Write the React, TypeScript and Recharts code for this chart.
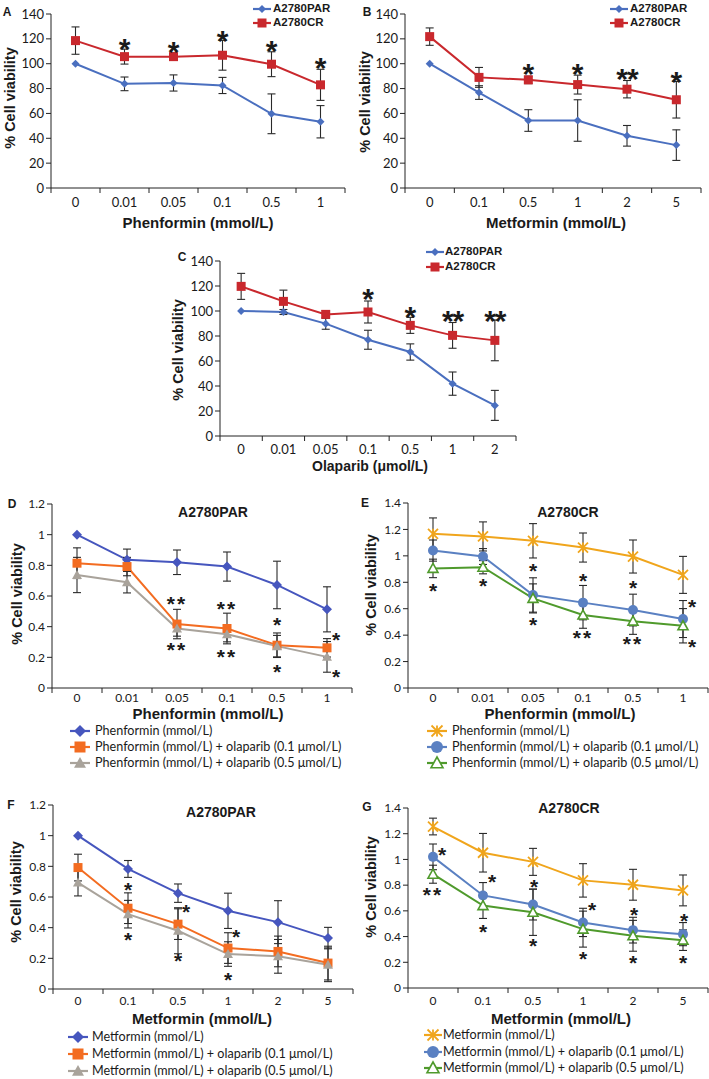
import React from "react";
import { ComposedChart, Line, XAxis, YAxis, ErrorBar } from "recharts";

type Star = [string, number] | null;
type MarkerKind = "diamond" | "square" | "triangle" | "openTriangle" | "circle" | "xstar";

const phenDoses = ["0", "0.01", "0.05", "0.1", "0.5", "1"];
const metDoses = ["0", "0.1", "0.5", "1", "2", "5"];
const olaDoses = ["0", "0.01", "0.05", "0.1", "0.5", "1", "2"];

const pctTicks = [0, 20, 40, 60, 80, 100, 120, 140];
const ratioTicks12 = [0, 0.2, 0.4, 0.6, 0.8, 1, 1.2];
const ratioTicks14 = [0, 0.2, 0.4, 0.6, 0.8, 1, 1.2, 1.4];

// A: phenformin, PAR vs CR
const aPar = [100, 83.8, 84.5, 82.5, 59.7, 53.3];
const aParErr = [0, 5.5, 6.5, 6.5, 16, 13];
const aCr = [118.6, 105.7, 105.7, 106.8, 99.6, 83];
const aCrErr = [11, 6, 3, 12, 10, 12.5];
const aStars: Star[] = [null, ["*", 117], ["*", 115], ["*", 124], ["*", 115.4], ["*", 101.7]];

// B: metformin, PAR vs CR
const bPar = [100, 76.8, 54.3, 54.3, 42, 34.5];
const bParErr = [0, 5.5, 8.7, 16.7, 8.3, 12.3];
const bCr = [121.8, 89, 87, 83.2, 79.5, 71];
const bCrErr = [7, 8, 3, 7.6, 7, 14.7];
const bStars: Star[] = [null, null, ["*", 96.9], ["*", 96.9], ["**", 93], ["*", 91]];

// C: olaparib, PAR vs CR
const cPar = [100, 99.2, 89.9, 77, 67.2, 41.9, 24.5];
const cParErr = [0, 2, 4.5, 7.6, 6.5, 9.3, 12];
const cCr = [119.7, 107.7, 97.3, 99.2, 88.5, 80.5, 76.5];
const cCrErr = [10.4, 9, 3, 8.8, 6.4, 10.3, 16.3];
const cStars: Star[] = [null, null, null, ["*", 114.7], ["*", 100.8], ["**", 97.3], ["**", 97.3]];

// D: A2780PAR phenformin +/- olaparib
const dPhen = [1.0, 0.836, 0.82, 0.792, 0.672, 0.513];
const dPhenErr = [0, 0.07, 0.08, 0.095, 0.155, 0.147];
const dOla01 = [0.814, 0.792, 0.417, 0.388, 0.279, 0.262];
const dOla01Err = [0.1, 0.06, 0.096, 0.1, 0.08, 0.06];
const dOla05 = [0.737, 0.69, 0.388, 0.351, 0.273, 0.203];
const dOla05Err = [0.115, 0.07, 0.05, 0.05, 0.07, 0.1];
const dStarsUp: Star[] = [null, null, ["**", 0.578], ["**", 0.545], ["*", 0.439], null];
const dStarsUpSide: Star[] = [null, null, null, null, null, ["*", 0.345]];
const dStarsDown: Star[] = [null, null, ["**", 0.279], ["**", 0.236], ["*", 0.137], null];
const dStarsDownSide: Star[] = [null, null, null, null, null, ["*", 0.105]];

// E: A2780CR phenformin +/- olaparib
const ePhen = [1.167, 1.147, 1.114, 1.063, 0.995, 0.856];
const ePhenErr = [0.12, 0.11, 0.13, 0.11, 0.125, 0.14];
const eOla01 = [1.04, 0.995, 0.704, 0.646, 0.59, 0.522];
const eOla01Err = [0.08, 0.06, 0.13, 0.13, 0.12, 0.14];
const eOla05 = [0.905, 0.914, 0.678, 0.552, 0.506, 0.471];
const eOla05Err = [0.07, 0.05, 0.11, 0.1, 0.1, 0.13];
const eStarsUp: Star[] = [null, null, ["*", 0.919], ["*", 0.848], ["*", 0.792], null];
const eStarsUpSide: Star[] = [null, null, null, null, null, ["*", 0.646]];
const eStarsDown: Star[] = [["*", 0.767], ["*", 0.805], ["*", 0.514], ["**", 0.418], ["**", 0.367], null];
const eStarsDownSide: Star[] = [null, null, null, null, null, ["*", 0.349]];

// F: A2780PAR metformin +/- olaparib
const fMet = [1.0, 0.783, 0.625, 0.51, 0.436, 0.332];
const fMetErr = [0, 0.055, 0.06, 0.115, 0.14, 0.07];
const fOla01 = [0.792, 0.527, 0.423, 0.267, 0.245, 0.169];
const fOla01Err = [0.087, 0.1, 0.1, 0.1, 0.1, 0.11];
const fOla05 = [0.694, 0.488, 0.38, 0.228, 0.213, 0.158];
const fOla05Err = [0.087, 0.09, 0.15, 0.08, 0.11, 0.11];
const fStarsUp: Star[] = [null, ["*", 0.679], null, null, null, null];
const fStarsUpSide: Star[] = [null, null, ["*", 0.532], ["*", 0.371], null, null];
const fStarsDown: Star[] = [null, ["*", 0.349], ["*", 0.213], ["*", 0.093], null, null];

// G: A2780CR metformin +/- olaparib
const gMet = [1.256, 1.052, 0.981, 0.837, 0.803, 0.759];
const gMetErr = [0.065, 0.15, 0.105, 0.13, 0.12, 0.12];
const gOla01 = [1.02, 0.72, 0.649, 0.51, 0.45, 0.419];
const gOla01Err = [0.1, 0.1, 0.12, 0.11, 0.1, 0.09];
const gOla05 = [0.885, 0.641, 0.589, 0.458, 0.406, 0.372];
const gOla05Err = [0.07, 0.1, 0.18, 0.14, 0.12, 0.08];
const gStarsUp: Star[] = [null, null, ["*", 0.819], null, ["*", 0.602], ["*", 0.555]];
const gStarsUpSide: Star[] = [["*", 1.073], ["*", 0.864], null, ["*", 0.641], null, null];
const gStarsDown: Star[] = [["**", 0.764], ["*", 0.471], ["*", 0.366], ["*", 0.262], ["*", 0.23], ["*", 0.23]];

const REG = "Lato, 'Liberation Sans', sans-serif";
const BOLD = "'Liberation Sans', Arial, sans-serif";
const AXIS = "#222";
const INK = "#1a1a1a";

const BLUE = "#4A6FBF";
const RED = "#C9282D";
const NAVY = "#4656BE";
const ORANGE = "#F36C21";
const GRAY = "#A9A39B";
const YELLOW = "#F0A51C";
const SKY = "#5A80C2";
const GREEN = "#4F9A2C";

function Marker({ kind, cx, cy, size, color }: { kind: MarkerKind; cx: number; cy: number; size: number; color: string }) {
  const r = size / 2;
  if (kind === "diamond")
    return <polygon points={`${cx},${cy - r} ${cx + r},${cy} ${cx},${cy + r} ${cx - r},${cy}`} fill={color} />;
  if (kind === "square") return <rect x={cx - r} y={cy - r} width={size} height={size} fill={color} />;
  if (kind === "triangle" || kind === "openTriangle") {
    const pts = `${cx},${cy - r} ${cx + r},${cy + r * 0.8} ${cx - r},${cy + r * 0.8}`;
    return kind === "triangle" ? (
      <polygon points={pts} fill={color} />
    ) : (
      <polygon points={pts} fill="#fff" stroke={color} strokeWidth={1.6} />
    );
  }
  if (kind === "circle") return <circle cx={cx} cy={cy} r={r} fill={color} />;
  return (
    <g stroke={color} strokeWidth={1.8}>
      <line x1={cx - r} y1={cy - r} x2={cx + r} y2={cy + r} />
      <line x1={cx - r} y1={cy + r} x2={cx + r} y2={cy - r} />
      <line x1={cx} y1={cy - r} x2={cx} y2={cy + r} />
    </g>
  );
}

function BandTick(props: any) {
  const { x, y, payload, index, bw, count, off, fs } = props;
  return (
    <g>
      <line x1={x - bw / 2} y1={y} x2={x - bw / 2} y2={y + 5} stroke={AXIS} />
      {index === count - 1 && <line x1={x + bw / 2} y1={y} x2={x + bw / 2} y2={y + 5} stroke={AXIS} />}
      <text x={x} y={y + off} textAnchor="middle" dominantBaseline="central" fontSize={fs} fontFamily={REG} fill={INK}>
        {payload.value}
      </text>
    </g>
  );
}

type SeriesDef = { values: number[]; errors: number[]; color: string; kind: MarkerKind; size: number };
type StarGroup = { stars: Star[]; dx: number };

function Panel(props: {
  x0: number;
  x1: number;
  yTop: number;
  yBottom: number;
  doses: string[];
  ticks: number[];
  series: SeriesDef[];
  starGroups: StarGroup[];
  tickFont: number;
  starFont: number;
  labelOff: number;
  starSpacing: number;
}) {
  const { x0, x1, yTop, yBottom, doses, ticks, series, starGroups, tickFont, starFont, labelOff, starSpacing } = props;
  const YW = 44;
  const TM = 14;
  const XH = 26;
  const RM = 1;
  const width = x1 - x0 + YW + RM;
  const height = yBottom - yTop + TM + XH;
  const bw = (x1 - x0) / doses.length;
  const rows = doses.map((d, i) => {
    const r: Record<string, any> = { dose: d };
    series.forEach((s, si) => {
      r["s" + si] = s.values[i];
      r["e" + si] = s.errors[i];
    });
    starGroups.forEach((g, gi) => {
      const st = g.stars[i];
      r["star" + gi] = st ? st[1] : null;
      r["mark" + gi] = st ? st[0] : null;
    });
    return r;
  });

  return (
    <div style={{ position: "absolute", left: x0 - YW, top: yTop - TM }}>
      <ComposedChart width={width} height={height} data={rows} margin={{ top: TM, right: RM, bottom: 0, left: 0 }}>
        <XAxis
          dataKey="dose"
          scale="band"
          height={XH}
          interval={0}
          tickLine={false}
          tickSize={0}
          tickMargin={0}
          axisLine={{ stroke: AXIS }}
          tick={<BandTick bw={bw} count={doses.length} off={labelOff} fs={tickFont} />}
        />
        <YAxis
          width={YW}
          domain={[ticks[0], ticks[ticks.length - 1]]}
          ticks={ticks}
          interval={0}
          tickSize={5}
          tickMargin={2}
          axisLine={{ stroke: AXIS }}
          tickLine={{ stroke: AXIS }}
          tick={{ fill: INK, fontSize: tickFont, fontFamily: REG }}
        />
        {series.map((s, si) => (
          <Line
            key={"s" + si}
            dataKey={"s" + si}
            stroke={s.color}
            strokeWidth={2}
            activeDot={false}
            isAnimationActive={false}
            dot={(p: any) => <Marker key={`m${si}-${p.index}`} kind={s.kind} cx={p.cx} cy={p.cy} size={s.size} color={s.color} />}
          >
            <ErrorBar dataKey={"e" + si} width={4} stroke="#2a2a2a" strokeWidth={1.1} direction="y" />
          </Line>
        ))}
        {starGroups.map((g, gi) => (
          <Line
            key={"star" + gi}
            dataKey={"star" + gi}
            stroke="none"
            activeDot={false}
            legendType="none"
            isAnimationActive={false}
            dot={(p: any) => {
              const mark = p.payload ? p.payload["mark" + gi] : null;
              if (!mark || p.cy == null || Number.isNaN(p.cy)) return <g key={`st${gi}-${p.index}`} />;
              return (
                <text
                  key={`st${gi}-${p.index}`}
                  x={p.cx + g.dx}
                  y={p.cy + starFont * 0.56}
                  textAnchor="middle"
                  fontSize={starFont}
                  fontWeight="bold"
                  fontFamily={BOLD}
                  letterSpacing={mark.length > 1 ? starSpacing : 0}
                  fill={INK}
                >
                  {mark}
                </text>
              );
            }}
          />
        ))}
      </ComposedChart>
    </div>
  );
}

function Txt({ x, y, children, size, bold, rotate, align }: any) {
  const shift = align === "left" ? "translate(0,-50%)" : "translate(-50%,-50%)";
  return (
    <div
      style={{
        position: "absolute",
        left: x,
        top: y,
        transform: shift + (rotate ? " rotate(-90deg)" : ""),
        fontFamily: bold ? BOLD : REG,
        fontWeight: bold ? 700 : 400,
        fontSize: size,
        lineHeight: 1,
        whiteSpace: "nowrap",
        color: INK,
      }}
    >
      {children}
    </div>
  );
}

function LegendItem({ mx, y, tx, kind, color, size, label, half, fs, bold }: any) {
  return (
    <>
      <svg style={{ position: "absolute", left: mx - half - 1, top: y - 8 }} width={2 * half + 2} height={16}>
        <line x1={1} y1={8} x2={2 * half + 1} y2={8} stroke={color} strokeWidth={2.2} />
        <Marker kind={kind} cx={half + 1} cy={8} size={size} color={color} />
      </svg>
      <Txt x={tx} y={y} size={fs} bold={bold} align="left">
        {label}
      </Txt>
    </>
  );
}

export default function App() {
  const smallStars = 21;
  const bigStars = 30;
  const legendFont = 12.6;
  return (
    <div style={{ position: "absolute", left: 0, top: 0, width: 709, height: 1079, overflow: "hidden", background: "#fff" }}>
      {/* A */}
      <Panel
        x0={51} x1={345} yTop={14} yBottom={188} doses={phenDoses} ticks={pctTicks}
        series={[
          { values: aPar, errors: aParErr, color: BLUE, kind: "diamond", size: 8 },
          { values: aCr, errors: aCrErr, color: RED, kind: "square", size: 9 },
        ]}
        starGroups={[{ stars: aStars, dx: 0 }]}
        tickFont={13} starFont={bigStars} labelOff={13.5} starSpacing={-1}
      />
      <Txt x={7} y={12} size={12} bold>A</Txt>
      <Txt x={10} y={98} size={14.5} bold rotate>% Cell viability</Txt>
      <Txt x={198} y={222} size={15} bold>Phenformin (mmol/L)</Txt>
      <LegendItem mx={262} y={8.5} tx={273} kind="diamond" color={BLUE} size={8} half={9} fs={11.5} bold label="A2780PAR" />
      <LegendItem mx={262} y={23} tx={273} kind="square" color={RED} size={9} half={9} fs={11.5} bold label="A2780CR" />

      {/* B */}
      <Panel
        x0={405} x1={701} yTop={14} yBottom={188} doses={metDoses} ticks={pctTicks}
        series={[
          { values: bPar, errors: bParErr, color: BLUE, kind: "diamond", size: 8 },
          { values: bCr, errors: bCrErr, color: RED, kind: "square", size: 9 },
        ]}
        starGroups={[{ stars: bStars, dx: 0 }]}
        tickFont={13} starFont={bigStars} labelOff={13.5} starSpacing={-1}
      />
      <Txt x={367} y={12} size={12} bold>B</Txt>
      <Txt x={365} y={102} size={14.5} bold rotate>% Cell viability</Txt>
      <Txt x={556} y={222} size={15} bold>Metformin (mmol/L)</Txt>
      <LegendItem mx={619} y={8.5} tx={630} kind="diamond" color={BLUE} size={8} half={9} fs={11.5} bold label="A2780PAR" />
      <LegendItem mx={619} y={23} tx={630} kind="square" color={RED} size={9} half={9} fs={11.5} bold label="A2780CR" />

      {/* C */}
      <Panel
        x0={220} x1={516} yTop={261} yBottom={436} doses={olaDoses} ticks={pctTicks}
        series={[
          { values: cPar, errors: cParErr, color: BLUE, kind: "diamond", size: 8 },
          { values: cCr, errors: cCrErr, color: RED, kind: "square", size: 9 },
        ]}
        starGroups={[{ stars: cStars, dx: 0 }]}
        tickFont={13} starFont={bigStars} labelOff={13} starSpacing={-1}
      />
      <Txt x={182} y={257} size={12} bold>C</Txt>
      <Txt x={178} y={350} size={14.5} bold rotate>% Cell viability</Txt>
      <Txt x={370} y={466} size={14} bold>Olaparib (μmol/L)</Txt>
      <LegendItem mx={435} y={252} tx={445} kind="diamond" color={BLUE} size={8} half={9} fs={11.5} bold label="A2780PAR" />
      <LegendItem mx={435} y={267} tx={445} kind="square" color={RED} size={9} half={9} fs={11.5} bold label="A2780CR" />

      {/* D */}
      <Panel
        x0={52} x1={352} yTop={504} yBottom={688} doses={phenDoses} ticks={ratioTicks12}
        series={[
          { values: dPhen, errors: dPhenErr, color: NAVY, kind: "diamond", size: 10 },
          { values: dOla01, errors: dOla01Err, color: ORANGE, kind: "square", size: 9 },
          { values: dOla05, errors: dOla05Err, color: GRAY, kind: "triangle", size: 10 },
        ]}
        starGroups={[
          { stars: dStarsUp, dx: 0 },
          { stars: dStarsUpSide, dx: 9 },
          { stars: dStarsDown, dx: 0 },
          { stars: dStarsDownSide, dx: 9 },
        ]}
        tickFont={12} starFont={smallStars} labelOff={9} starSpacing={2}
      />
      <Txt x={12} y={504} size={12} bold>D</Txt>
      <Txt x={17} y={594} size={14.5} bold rotate>% Cell viability</Txt>
      <Txt x={213} y={512} size={14} bold>A2780PAR</Txt>
      <Txt x={208} y={713} size={15} bold>Phenformin (mmol/L)</Txt>
      <LegendItem mx={80} y={731} tx={95} kind="diamond" color={NAVY} size={12} half={10} fs={legendFont} label="Phenformin (mmol/L)" />
      <LegendItem mx={80} y={747} tx={95} kind="square" color={ORANGE} size={11} half={10} fs={legendFont} label="Phenformin (mmol/L) + olaparib (0.1 μmol/L)" />
      <LegendItem mx={80} y={763} tx={95} kind="triangle" color={GRAY} size={12} half={10} fs={legendFont} label="Phenformin (mmol/L) + olaparib (0.5 μmol/L)" />

      {/* E */}
      <Panel
        x0={408} x1={708} yTop={503} yBottom={688} doses={phenDoses} ticks={ratioTicks14}
        series={[
          { values: ePhen, errors: ePhenErr, color: YELLOW, kind: "xstar", size: 10 },
          { values: eOla01, errors: eOla01Err, color: SKY, kind: "circle", size: 10 },
          { values: eOla05, errors: eOla05Err, color: GREEN, kind: "openTriangle", size: 10 },
        ]}
        starGroups={[
          { stars: eStarsUp, dx: 0 },
          { stars: eStarsUpSide, dx: 9 },
          { stars: eStarsDown, dx: 0 },
          { stars: eStarsDownSide, dx: 9 },
        ]}
        tickFont={12} starFont={smallStars} labelOff={9} starSpacing={2}
      />
      <Txt x={365} y={503} size={12} bold>E</Txt>
      <Txt x={371} y={585} size={14.5} bold rotate>% Cell viability</Txt>
      <Txt x={568} y={512} size={14} bold>A2780CR</Txt>
      <Txt x={560} y={713} size={15} bold>Phenformin (mmol/L)</Txt>
      <LegendItem mx={437} y={731} tx={452} kind="xstar" color={YELLOW} size={11} half={10} fs={legendFont} label="Phenformin (mmol/L)" />
      <LegendItem mx={437} y={747} tx={452} kind="circle" color={SKY} size={12} half={10} fs={legendFont} label="Phenformin (mmol/L) + olaparib (0.1 μmol/L)" />
      <LegendItem mx={437} y={763} tx={452} kind="openTriangle" color={GREEN} size={12} half={10} fs={legendFont} label="Phenformin (mmol/L) + olaparib (0.5 μmol/L)" />

      {/* F */}
      <Panel
        x0={53} x1={353} yTop={805} yBottom={989} doses={metDoses} ticks={ratioTicks12}
        series={[
          { values: fMet, errors: fMetErr, color: NAVY, kind: "diamond", size: 10 },
          { values: fOla01, errors: fOla01Err, color: ORANGE, kind: "square", size: 9 },
          { values: fOla05, errors: fOla05Err, color: GRAY, kind: "triangle", size: 10 },
        ]}
        starGroups={[
          { stars: fStarsUp, dx: 0 },
          { stars: fStarsUpSide, dx: 8 },
          { stars: fStarsDown, dx: 0 },
        ]}
        tickFont={12} starFont={smallStars} labelOff={11} starSpacing={2}
      />
      <Txt x={11} y={805} size={12} bold>F</Txt>
      <Txt x={16} y={892} size={14.5} bold rotate>% Cell viability</Txt>
      <Txt x={221} y={812} size={14} bold>A2780PAR</Txt>
      <Txt x={202} y={1018} size={15} bold>Metformin (mmol/L)</Txt>
      <LegendItem mx={78} y={1037} tx={92} kind="diamond" color={NAVY} size={12} half={10} fs={legendFont} label="Metformin (mmol/L)" />
      <LegendItem mx={78} y={1054} tx={92} kind="square" color={ORANGE} size={11} half={10} fs={legendFont} label="Metformin (mmol/L) + olaparib (0.1 μmol/L)" />
      <LegendItem mx={78} y={1071} tx={92} kind="triangle" color={GRAY} size={12} half={10} fs={legendFont} label="Metformin (mmol/L) + olaparib (0.5 μmol/L)" />

      {/* G */}
      <Panel
        x0={408} x1={708} yTop={808} yBottom={988} doses={metDoses} ticks={ratioTicks14}
        series={[
          { values: gMet, errors: gMetErr, color: YELLOW, kind: "xstar", size: 10 },
          { values: gOla01, errors: gOla01Err, color: SKY, kind: "circle", size: 10 },
          { values: gOla05, errors: gOla05Err, color: GREEN, kind: "openTriangle", size: 10 },
        ]}
        starGroups={[
          { stars: gStarsUp, dx: 1 },
          { stars: gStarsUpSide, dx: 9 },
          { stars: gStarsDown, dx: 0 },
        ]}
        tickFont={12} starFont={smallStars} labelOff={12} starSpacing={2}
      />
      <Txt x={367} y={807} size={12} bold>G</Txt>
      <Txt x={371} y={887} size={14.5} bold rotate>% Cell viability</Txt>
      <Txt x={569} y={808} size={14} bold>A2780CR</Txt>
      <Txt x={561} y={1018} size={15} bold>Metformin (mmol/L)</Txt>
      <LegendItem mx={433} y={1035} tx={443} kind="xstar" color={YELLOW} size={11} half={9} fs={legendFont} label="Metformin (mmol/L)" />
      <LegendItem mx={433} y={1052} tx={443} kind="circle" color={SKY} size={12} half={9} fs={legendFont} label="Metformin (mmol/L) + olaparib (0.1 μmol/L)" />
      <LegendItem mx={433} y={1068} tx={443} kind="openTriangle" color={GREEN} size={12} half={9} fs={legendFont} label="Metformin (mmol/L) + olaparib (0.5 μmol/L)" />
    </div>
  );
}
